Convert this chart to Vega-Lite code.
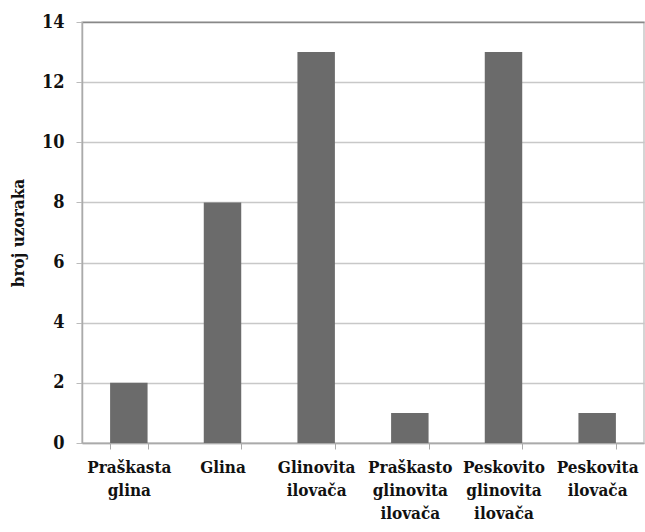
{
  "$schema": "https://vega.github.io/schema/vega-lite/v6.json",
  "width": 562,
  "height": 421,
  "autosize": {"type": "none"},
  "padding": {"left": 82, "top": 22, "right": 1, "bottom": 89},
  "background": "white",
  "data": {
    "values": [
      {"tip": "Praškasta|glina", "broj": 2},
      {"tip": "Glina", "broj": 8},
      {"tip": "Glinovita|ilovača", "broj": 13},
      {"tip": "Praškasto|glinovita|ilovača", "broj": 1},
      {"tip": "Peskovito|glinovita|ilovača", "broj": 13},
      {"tip": "Peskovita|ilovača", "broj": 1}
    ]
  },
  "config": {
    "font": "DejaVu Serif Condensed",
    "view": {"stroke": "#c8c8c8", "strokeWidth": 1.5},
    "axisX": {"labelFont": "DejaVu Serif Condensed", "labelFontWeight": "bold", "labelFontSize": 17},
    "axisBand": {"labelFont": "DejaVu Serif Condensed", "labelFontWeight": "bold", "labelFontSize": 17},
    "axis": {"labelFont": "DejaVu Serif Condensed"}
  },
  "mark": {"type": "bar", "color": "#6b6b6b"},
  "encoding": {
    "x": {
      "field": "tip",
      "type": "nominal",
      "sort": null,
      "scale": {"paddingInner": 0.6, "paddingOuter": 0.3},
      "axis": {
        "title": null,
        "labelAngle": 0,
        "labelExpr": "split(datum.label, '|')",
        "labelFont": "DejaVu Serif Condensed",
        "labelFontWeight": "bold",
        "labelColor": "#111",
        "labelFontSize": 17,
        "labelLineHeight": 23,
        "labelPadding": 10,
        "tickBand": "extent",
        "tickSize": 6,
        "tickColor": "#aaa",
        "domainColor": "#aaa",
        "domainWidth": 1.5,
        "labelLimit": 200
      }
    },
    "y": {
      "field": "broj",
      "type": "quantitative",
      "scale": {"domain": [0, 14], "nice": false},
      "axis": {
        "title": "broj uzoraka",
        "titleFont": "DejaVu Serif Condensed",
        "titleFontWeight": "bold",
        "titleColor": "#111",
        "titleFontSize": 17,
        "titleX": -64,
        "titleBaseline": "middle",
        "values": [0, 2, 4, 6, 8, 10, 12, 14],
        "labelFont": "DejaVu Serif Condensed",
        "labelFontWeight": "bold",
        "labelColor": "#111",
        "labelFontSize": 18,
        "labelPadding": 12,
        "tickSize": 6,
        "tickColor": "#bbb",
        "domainColor": "#aaa",
        "domainWidth": 1.5,
        "gridColor": {"condition": {"test": "datum.value === 14", "value": "#888"}, "value": "#c8c8c8"},
        "gridWidth": 1.5
      }
    }
  }
}
